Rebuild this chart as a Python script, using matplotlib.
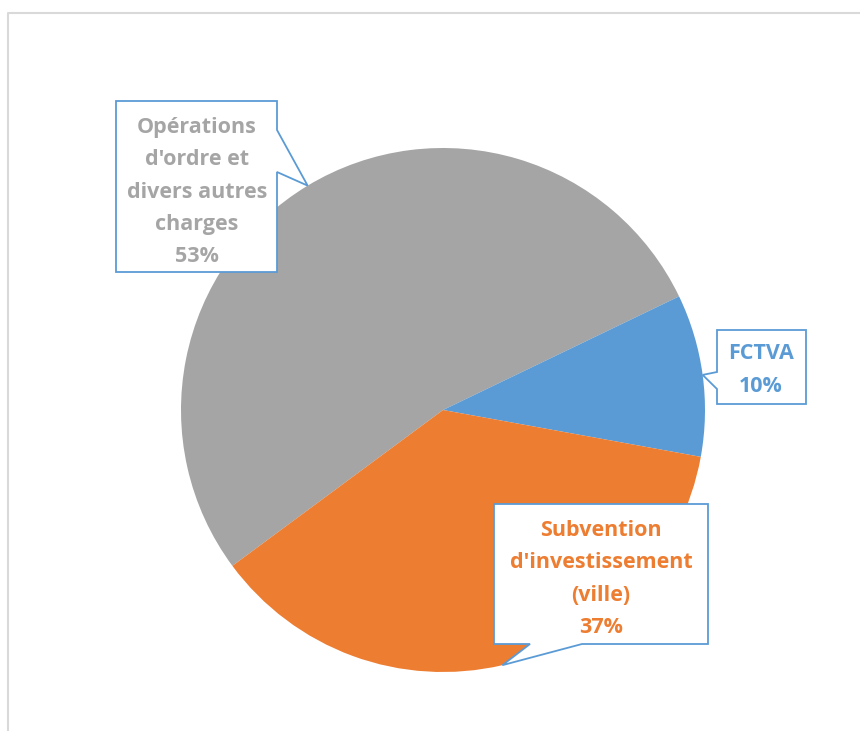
import numpy as np
import matplotlib
matplotlib.use("Agg")
from matplotlib import pyplot as plt
from matplotlib.patches import Polygon

W, H = 860, 731

labels = ["Opérations\nd'ordre et\ndivers autres\ncharges", "FCTVA", "Subvention\nd'investissement\n(ville)"]
values = [53, 10, 37]
colors = ["#A5A5A5", "#5B9BD5", "#ED7D31"]

# pixel layout (y from top)
center = (443, 410)
radius = 262
start = 216.5
# box: x0, y0, x1, y1, side of the pointer, notch start, notch end, text centre
boxes = [
    (116, 101, 277, 272, "right", 130, 172, (197, 192)),
    (717, 330, 806, 404, "left", 372, 389, (761, 370)),
    (494, 504, 708, 644, "bottom", 530, 582, (601, 579)),
]

def py(y):
    return H - y

fig = plt.figure(figsize=(W / 100, H / 100), dpi=100)
ax = fig.add_axes([0, 0, 1, 1])

# outer frame (only top and left show)
ax.plot([8, 8, W + 5], [-5, py(13), py(13)], color="#D9D9D9", lw=1.5, solid_capstyle="butt")

wedges, _ = ax.pie(values, colors=colors, startangle=start, counterclock=False,
                   center=(center[0], py(center[1])), radius=radius,
                   wedgeprops=dict(linewidth=0), frame=True)
ax.set_xlim(0, W)
ax.set_ylim(0, H)
ax.set_aspect("equal")
ax.axis("off")

total = sum(values)
for w, lab, val, col, b in zip(wedges, labels, values, colors, boxes):
    mid = np.deg2rad((w.theta1 + w.theta2) / 2)
    tip = (center[0] + radius * np.cos(mid), py(center[1]) + radius * np.sin(mid))
    x0, y0, x1, y1, side, n0, n1, tc = b
    x0p, x1p, y0p, y1p = x0, x1, py(y0), py(y1)
    if side == "right":
        pts = [(x0p, y0p), (x1p, y0p), (x1p, py(n0)), tip, (x1p, py(n1)), (x1p, y1p), (x0p, y1p)]
    elif side == "left":
        pts = [(x0p, y0p), (x1p, y0p), (x1p, y1p), (x0p, y1p), (x0p, py(n1)), tip, (x0p, py(n0))]
    else:
        pts = [(x0p, y0p), (x1p, y0p), (x1p, y1p), (n1, y1p), tip, (n0, y1p), (x0p, y1p)]
    ax.add_patch(Polygon(pts, closed=True, facecolor="white", edgecolor="#5B9BD5",
                         lw=1.3, joinstyle="miter", zorder=3))
    pct = "{:.0f}%".format(100 * val / total)
    ax.text(tc[0], py(tc[1]), lab + "\n" + pct, ha="center", va="center", color=col,
            fontsize=15.5, fontweight="bold", family=["Open Sans", "DejaVu Sans"],
            linespacing=1.7, zorder=4)

fig.savefig("out.png", dpi=100)
